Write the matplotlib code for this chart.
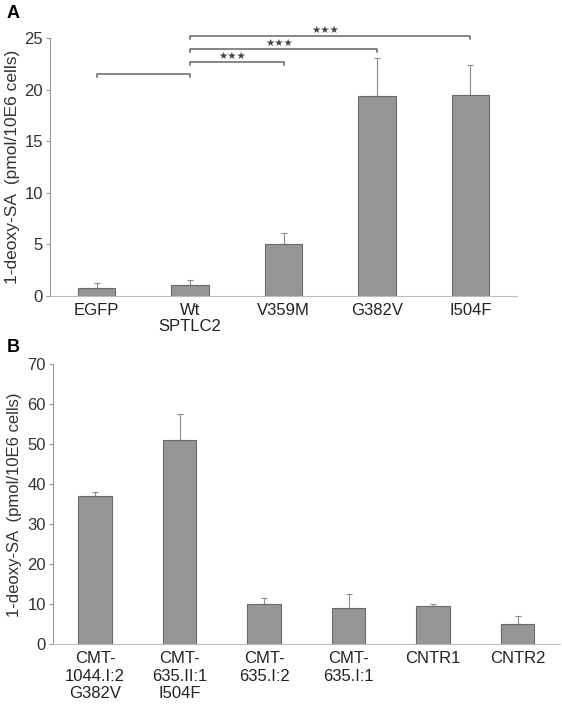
import matplotlib.pyplot as plt
import numpy as np

plt.rcParams['font.family'] = ['Liberation Sans', 'DejaVu Sans']

# panel A data
a_labels = ['EGFP', 'Wt\nSPTLC2', 'V359M', 'G382V', 'I504F']
a_values = [0.8, 1.1, 5.0, 19.4, 19.5]
a_err = [0.45, 0.45, 1.1, 3.7, 2.9]

# panel B data
b_labels = ['CMT-\n1044.I:2\nG382V', 'CMT-\n635.II:1\nI504F', 'CMT-\n635.I:2',
            'CMT-\n635.I:1', 'CNTR1', 'CNTR2']
b_values = [37.1, 51.0, 10.1, 9.0, 9.7, 5.2]
b_err = [1.1, 6.6, 1.6, 3.7, 0.3, 2.0]

# significance brackets (from, to, height, label)
brackets = [(0, 1, 21.5, ''), (1, 2, 22.7, '★★★'), (1, 3, 23.9, '★★★'), (1, 4, 25.2, '★★★')]

bar_color = '#969696'
edge_color = '#6a6a6a'
line_gray = '#8c8c8c'
ylab = '1-deoxy-SA  (pmol/10E6 cells)'

fig = plt.figure(figsize=(5.62, 7.04), dpi=100)
axA = fig.add_axes([0.089, 0.5795, 0.831, 0.3665])
axB = fig.add_axes([0.094, 0.0848, 0.902, 0.3977])


def style(ax, n, ymax, step, size):
    x = np.arange(n)
    ax.set_xlim(-0.5, n - 0.5)
    ax.set_ylim(0, ymax)
    ax.set_yticks(np.arange(0, ymax + 1, step))
    for s in ['top', 'right']:
        ax.spines[s].set_visible(False)
    ax.spines['left'].set_color('#999999')
    ax.spines['bottom'].set_color('#bbbbbb')
    ax.tick_params(axis='y', length=3, color='#999999', labelsize=size, labelcolor='#333333', pad=2)
    ax.tick_params(axis='x', length=0, labelsize=size, labelcolor='#222222', pad=5)
    return x


x = style(axA, len(a_values), 25, 5, 12)
axA.bar(x, a_values, width=0.4, color=bar_color, edgecolor=edge_color, linewidth=0.8, zorder=2)
axA.errorbar(x, a_values, yerr=[np.zeros(len(a_err)), a_err], fmt='none',
             ecolor=line_gray, elinewidth=0.8, capsize=2, capthick=0.8, zorder=1)
axA.set_xticks(x)
axA.set_xticklabels(a_labels, linespacing=1.05)
axA.set_ylabel(ylab, fontsize=12.5, color='#333333', labelpad=3)
for i, j, h, lab in brackets:
    axA.plot([i, i, j, j], [h - 0.3, h, h, h - 0.3], color='#666666', lw=1.1, clip_on=False)
    if lab:
        axA.text((i + j) / 2 - 0.05, h + 0.12, lab, ha='center', va='bottom', fontsize=7.5,
                 family=['DejaVu Sans'], color='#444444')
fig.text(0.012, 0.981, 'A', fontsize=13, fontweight='bold', ha='left', va='center')

x = style(axB, len(b_values), 70, 10, 12)
axB.bar(x, b_values, width=0.4, color=bar_color, edgecolor=edge_color, linewidth=0.8, zorder=2)
axB.errorbar(x, b_values, yerr=[np.zeros(len(b_err)), b_err], fmt='none',
             ecolor=line_gray, elinewidth=0.8, capsize=2, capthick=0.8, zorder=1)
axB.set_xticks(x)
axB.set_xticklabels(b_labels)
axB.set_ylabel(ylab, fontsize=12, color='#333333', labelpad=4)
fig.text(0.012, 0.506, 'B', fontsize=13, fontweight='bold', ha='left', va='center')

fig.savefig('out.png', dpi=100)
